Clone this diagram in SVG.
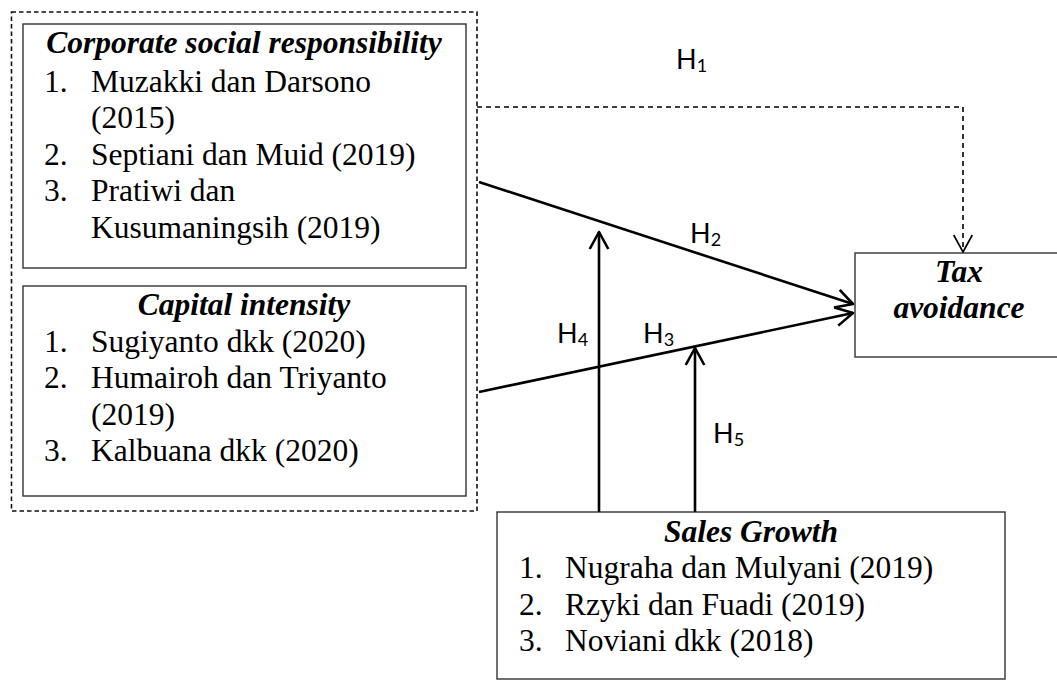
<svg xmlns="http://www.w3.org/2000/svg" width="1057" height="680" viewBox="0 0 1057 680">
<style>
.box{fill:#fff;stroke:#333;stroke-width:1.4}
.grp{fill:none;stroke:#111;stroke-width:1.6;stroke-dasharray:4.5,3}
.t{font-family:"Liberation Serif","Times New Roman",serif;font-size:31.5px;fill:#000}
.ti{font-family:"Liberation Serif","Times New Roman",serif;font-size:31.5px;font-weight:bold;font-style:italic;fill:#000}
.h{font-family:Lato,"Open Sans",sans-serif;font-size:27px;fill:#000}
.sub{font-size:18px}
.c{fill:none;stroke:#000;stroke-width:2.6}
.cd{fill:none;stroke:#000;stroke-width:1.6;stroke-dasharray:5,4}
</style>
<defs>
<marker id="ah" markerUnits="userSpaceOnUse" markerWidth="40" markerHeight="40" viewBox="-20 -20 40 40" refX="0" refY="0" orient="auto">
<path d="M-17,-9.3 L0,0 L-17,9.3" fill="none" stroke="#000" stroke-width="2.6" stroke-linejoin="round"/>
</marker>
<marker id="ahd" markerUnits="userSpaceOnUse" markerWidth="40" markerHeight="40" viewBox="-20 -20 40 40" refX="0" refY="0" orient="auto">
<path d="M-17,-9.3 L0,0 L-17,9.3" fill="none" stroke="#000" stroke-width="1.6" stroke-linejoin="round"/>
</marker>
</defs>
<rect width="1057" height="680" fill="#fff"/>
<g id="independents">
<rect class="grp" x="11.5" y="12" width="465.5" height="499"/>
</g>
<g id="csr">
<rect class="box" x="23" y="24" width="443" height="244"/>
<text class="ti" x="244" y="53" text-anchor="middle">Corporate social responsibility</text>
<text class="t" x="44" y="91.5">1.</text><text class="t" x="91" y="91.5">Muzakki dan Darsono</text>
<text class="t" x="91" y="128">(2015)</text>
<text class="t" x="44" y="164.5">2.</text><text class="t" x="91" y="164.5">Septiani dan Muid (2019)</text>
<text class="t" x="44" y="201">3.</text><text class="t" x="91" y="201">Pratiwi dan</text>
<text class="t" x="91" y="238">Kusumaningsih (2019)</text>
</g>
<g id="capital">
<rect class="box" x="23" y="286" width="443" height="210"/>
<text class="ti" x="244" y="315" text-anchor="middle">Capital intensity</text>
<text class="t" x="44" y="352">1.</text><text class="t" x="91" y="352">Sugiyanto dkk (2020)</text>
<text class="t" x="44" y="388">2.</text><text class="t" x="91" y="388">Humairoh dan Triyanto</text>
<text class="t" x="91" y="424.5">(2019)</text>
<text class="t" x="44" y="461">3.</text><text class="t" x="91" y="461">Kalbuana dkk (2020)</text>
</g>
<g id="tax">
<rect class="box" x="855" y="253" width="210" height="104"/>
<text class="ti" x="959" y="281.5" text-anchor="middle">Tax</text>
<text class="ti" x="959" y="318" text-anchor="middle">avoidance</text>
</g>
<g id="sales">
<rect class="box" x="497" y="512" width="508" height="167"/>
<text class="ti" x="751" y="541.5" text-anchor="middle">Sales Growth</text>
<text class="t" x="519" y="578">1.</text><text class="t" x="565" y="578">Nugraha dan Mulyani (2019)</text>
<text class="t" x="519" y="614.5">2.</text><text class="t" x="565" y="614.5">Rzyki dan Fuadi (2019)</text>
<text class="t" x="519" y="651">3.</text><text class="t" x="565" y="651">Noviani dkk (2018)</text>
</g>
<g id="connectors">
<path class="cd" d="M477,107 H963 V252" marker-end="url(#ahd)"/>
<line class="c" x1="479" y1="182" x2="853" y2="304" marker-end="url(#ah)"/>
<line class="c" x1="479" y1="392" x2="853" y2="313" marker-end="url(#ah)"/>
<line class="c" x1="599" y1="512" x2="599" y2="232" marker-end="url(#ah)"/>
<line class="c" x1="695" y1="512" x2="695" y2="348" marker-end="url(#ah)"/>
</g>
<g id="labels">
<text class="h" x="676" y="69">H<tspan class="sub" dy="3">1</tspan></text>
<text class="h" x="690" y="243">H<tspan class="sub" dy="3">2</tspan></text>
<text class="h" x="643" y="343">H<tspan class="sub" dy="3">3</tspan></text>
<text class="h" x="557" y="343">H<tspan class="sub" dy="3">4</tspan></text>
<text class="h" x="713" y="443">H<tspan class="sub" dy="3">5</tspan></text>
</g>
</svg>
